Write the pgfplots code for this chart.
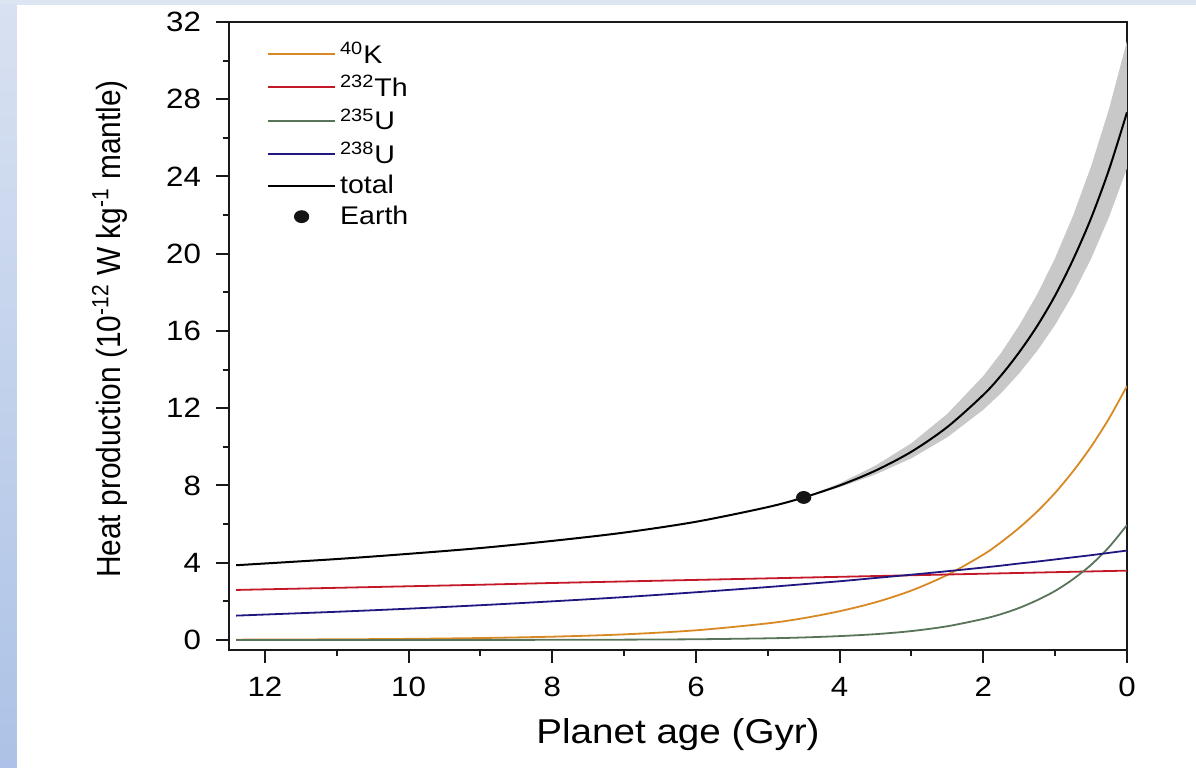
\documentclass[border=0pt]{standalone}
\usepackage{pgfplots}
\pgfplotsset{compat=1.18}
\usepackage{pgfplotstable}
\usepackage{fontspec}
\setmainfont{Liberation Sans}[FakeStretch=1.12]
\newfontfamily\ylabfont{Liberation Sans}[FakeStretch=0.893]

\definecolor{cK}{RGB}{217,137,35}
\definecolor{cTh}{RGB}{196,24,40}
\definecolor{cUf}{RGB}{88,117,90}
\definecolor{cUe}{RGB}{32,24,128}
\definecolor{cband}{RGB}{200,200,200}
\definecolor{topbar}{RGB}{220,229,242}
\definecolor{stripT}{RGB}{216,225,241}
\definecolor{stripB}{RGB}{172,194,230}

\pgfplotsset{
  linelegend/.style={legend image code/.code={\draw[##1, line width=1bp] (0bp,0bp) -- (33.5bp,0bp);}},
  earthlegend/.style={legend image code/.code={\draw[##1] plot coordinates {(16.75bp,0bp)};}}}

\pgfplotstableread{
t K Th Uf Ue tot
0 13.15 3.59 5.95 4.63 27.32
0.25 11.47 3.57 4.81 4.51 24.36
0.5 10.01 3.55 3.89 4.39 21.84
0.75 8.74 3.53 3.15 4.28 19.70
1 7.62 3.51 2.54 4.17 17.84
1.25 6.65 3.49 2.06 4.06 16.26
1.5 5.81 3.47 1.66 3.96 14.90
1.75 5.07 3.45 1.34 3.85 13.71
2 4.42 3.43 1.09 3.75 12.69
2.5 3.37 3.39 0.71 3.56 11.03
3 2.56 3.35 0.46 3.38 9.75
3.5 1.95 3.31 0.30 3.21 8.77
4 1.49 3.27 0.20 3.04 8.00
4.5 1.13 3.23 0.13 2.89 7.38
5 0.86 3.19 0.085 2.74 6.88
6 0.50 3.11 0.036 2.47 6.12
7 0.29 3.03 0.016 2.22 5.56
8 0.17 2.95 0.007 2.00 5.13
9 0.10 2.86 0.003 1.80 4.76
10 0.057 2.78 0.001 1.62 4.46
11 0.033 2.70 0.0005 1.46 4.19
12.4 0.015 2.59 0.0002 1.26 3.87
}\data

% uncertainty band as a closed outline: upper edge 0 -> 4.5, lower edge 4.5 -> 0
\pgfplotstableread{
t v
0 31.01
0.25 27.50
0.5 24.52
0.75 21.98
1 19.78
1.25 17.90
1.5 16.29
1.75 14.88
2 13.67
2.5 11.71
3 10.19
3.5 9.03
4 8.11
4.5 7.38
4 7.91
3.5 8.57
3 9.41
2.5 10.50
2 11.92
1.75 12.79
1.5 13.81
1.25 14.97
1 16.32
0.75 17.91
0.5 19.74
0.25 21.90
0 24.43
}\band

\pgfplotstableread{
t h
4.5 7.38
}\earth

\begin{document}
\begin{tikzpicture}
% background (page 1196 x 768 px at 0.5 bp/px; axis box lower left at px (229,650))
\fill[white] (-114.5bp,-59bp) rectangle (483.5bp,325bp);
\fill[topbar] (-114.5bp,322.6bp) rectangle (483.5bp,325bp);
\shade[top color=stripT, bottom color=stripB] (-114.5bp,-59bp) rectangle (-106bp,322.6bp);
\begin{axis}[
  at={(0,0)}, anchor=south west,
  scale only axis, width=449bp, height=314bp,
  xmin=0, xmax=12.5, x dir=reverse,
  ymin=-0.52, ymax=32,
  xtick={0,2,...,12}, minor xtick={1,3,...,11},
  ytick={0,4,...,32}, minor ytick={2,6,...,30},
  tick align=outside, xtick pos=bottom, ytick pos=left,
  major tick length=6.5bp, minor tick length=3.2bp,
  axis line style={line width=1.1bp, black!90},
  tick style={line width=1bp, black!90},
  /pgf/number format/assume math mode=true,
  ticklabel style={font=\fontsize{14}{16}\selectfont, black},
  xticklabel style={yshift=-3.5bp},
  yticklabel style={xshift=-4bp},
  every axis x label/.style={at={(axis description cs:0.5,-0.135)}, anchor=center, font=\fontsize{17.3}{20}\selectfont},
  every axis y label/.style={at={(axis description cs:-0.1325,0.511)}, rotate=90, anchor=center, font=\ylabfont\fontsize{16.8}{19}\selectfont},
  xlabel={Planet age (Gyr)},
  ylabel={Heat production (10\textsuperscript{-12} W kg\textsuperscript{-1} mantle)},
  legend style={at={(axis description cs:0.042,0.975)}, anchor=north west, draw=none, fill=none,
    font=\fontsize{12.8}{14}\selectfont, row sep=0.6bp, inner sep=0pt},
  legend cell align=left,
  clip=true,
]
\addplot[fill=cband, draw=none, forget plot] table[x=t, y=v] {\band} -- cycle;

\addplot[color=cK, line width=0.9bp, smooth, linelegend] table[x=t, y=K] {\data};
\addlegendentry{\textsuperscript{40}K}
\addplot[color=cTh, line width=0.9bp, smooth, linelegend] table[x=t, y=Th] {\data};
\addlegendentry{\textsuperscript{232}Th}
\addplot[color=cUf, line width=0.9bp, smooth, linelegend] table[x=t, y=Uf] {\data};
\addlegendentry{\textsuperscript{235}U}
\addplot[color=cUe, line width=0.9bp, smooth, linelegend] table[x=t, y=Ue] {\data};
\addlegendentry{\textsuperscript{238}U}
\addplot[color=black, line width=1bp, smooth, linelegend] table[x=t, y=tot] {\data};
\addlegendentry{total}
\addplot[only marks, mark=*, mark size=3bp, mark options={xscale=1.2, fill=black!92, draw=black!92}, earthlegend] table[x=t, y=h] {\earth};
\addlegendentry{Earth}
\end{axis}
\end{tikzpicture}
\end{document}
